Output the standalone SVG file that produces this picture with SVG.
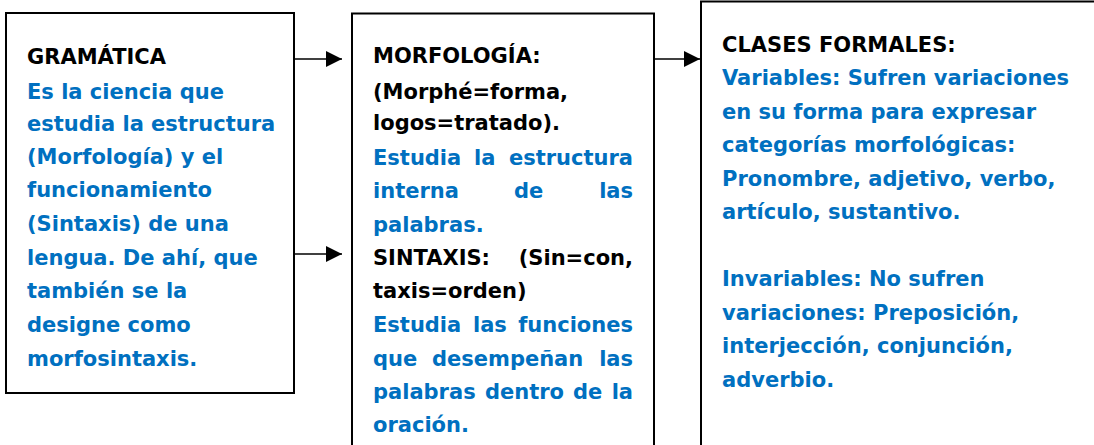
<svg xmlns="http://www.w3.org/2000/svg" width="1094" height="445" viewBox="0 0 1094 445">
<style>
.box{fill:#fff;stroke:#000;stroke-width:2}
.t{font-family:"DejaVu Sans","Liberation Sans",sans-serif;font-weight:bold;font-size:21px}
.k{fill:#000}
.b{fill:#0070C0}
.e{text-anchor:end}
.conn{stroke:#000;stroke-width:1.6;fill:none}
</style>
<defs>
<marker id="ah" markerUnits="userSpaceOnUse" markerWidth="16" markerHeight="16" refX="16" refY="8" orient="auto">
<path d="M0,0 L16,8 L0,16 Z" fill="#000"/>
</marker>
</defs>
<rect width="1094" height="445" fill="#fff"/>
<g id="gramatica">
<rect class="box" x="6" y="13" width="288" height="380"/>
<text class="t k" x="27" y="64">GRAMÁTICA</text>
<text class="t b" x="27" y="99">Es la ciencia que</text>
<text class="t b" x="27" y="131">estudia la estructura</text>
<text class="t b" x="27" y="164">(Morfología) y el</text>
<text class="t b" x="27" y="197">funcionamiento</text>
<text class="t b" x="27" y="231">(Sintaxis) de una</text>
<text class="t b" x="27" y="265">lengua. De ahí, que</text>
<text class="t b" x="27" y="298">también se la</text>
<text class="t b" x="27" y="332">designe como</text>
<text class="t b" x="27" y="366">morfosintaxis.</text>
</g>
<g id="morfologia">
<rect class="box" x="352" y="13.5" width="302" height="460"/>
<text class="t k" x="373" y="63">MORFOLOGÍA:</text>
<text class="t k" x="373" y="99">(Morphé=forma,</text>
<text class="t k" x="373" y="130">logos=tratado).</text>
<text class="t b" y="165"><tspan x="373">Estudia</tspan><tspan x="474">la</tspan><tspan x="633" class="e">estructura</tspan></text>
<text class="t b" y="198"><tspan x="373">interna</tspan><tspan x="514">de</tspan><tspan x="633" class="e">las</tspan></text>
<text class="t b" x="373" y="232">palabras.</text>
<text class="t k" y="265"><tspan x="373">SINTAXIS:</tspan><tspan x="633" class="e">(Sin=con,</tspan></text>
<text class="t k" x="373" y="298">taxis=orden)</text>
<text class="t b" y="332"><tspan x="373">Estudia</tspan><tspan x="473">las</tspan><tspan x="633" class="e">funciones</tspan></text>
<text class="t b" y="366"><tspan x="373">que</tspan><tspan x="432">desempeñan</tspan><tspan x="633" class="e">las</tspan></text>
<text class="t b" y="399"><tspan x="373">palabras</tspan><tspan x="485">dentro</tspan><tspan x="573">de</tspan><tspan x="633" class="e">la</tspan></text>
<text class="t b" x="373" y="432">oración.</text>
</g>
<g id="clases">
<rect class="box" x="701" y="1.5" width="500" height="500"/>
<text class="t k" x="722" y="52">CLASES FORMALES:</text>
<text class="t b" x="722" y="85">Variables: Sufren variaciones</text>
<text class="t b" x="722" y="119">en su forma para expresar</text>
<text class="t b" x="722" y="152">categorías morfológicas:</text>
<text class="t b" x="722" y="186">Pronombre, adjetivo, verbo,</text>
<text class="t b" x="722" y="219">artículo, sustantivo.</text>
<text class="t b" x="722" y="286">Invariables: No sufren</text>
<text class="t b" x="722" y="320">variaciones: Preposición,</text>
<text class="t b" x="722" y="353">interjección, conjunción,</text>
<text class="t b" x="722" y="387">adverbio.</text>
</g>
<g id="connectors">
<line class="conn" x1="294" y1="59" x2="342" y2="59" marker-end="url(#ah)"/>
<line class="conn" x1="294" y1="254" x2="342" y2="254" marker-end="url(#ah)"/>
<line class="conn" x1="654" y1="59" x2="700" y2="59" marker-end="url(#ah)"/>
</g>
</svg>
